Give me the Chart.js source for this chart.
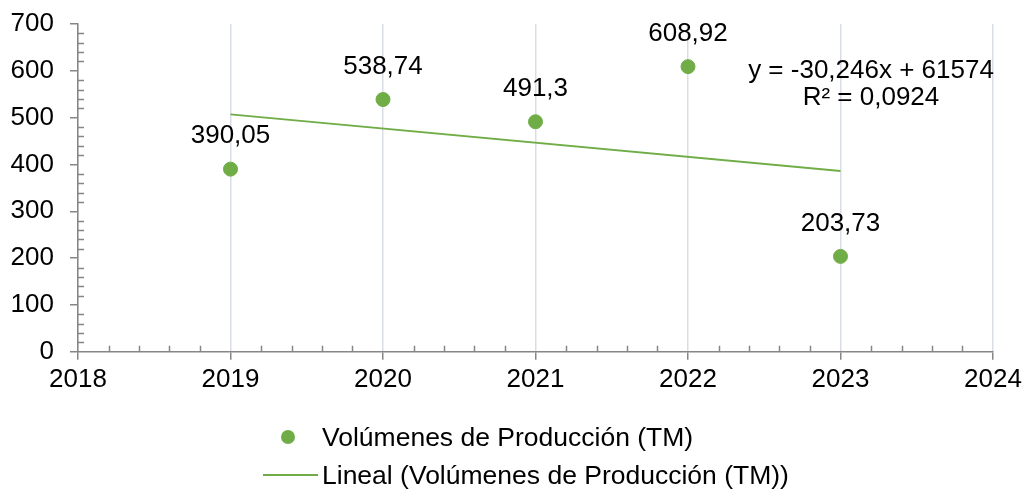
<!DOCTYPE html>
<html>
<head>
<meta charset="utf-8">
<script src="https://cdn.jsdelivr.net/npm/chart.js@4/dist/chart.umd.min.js"></script>
<style>
  body { margin: 0; background: #fff; font-family: "Liberation Sans", Arial, sans-serif; }
  #wrap { position: relative; width: 1024px; height: 495px; }
  #legend { position: absolute; left: 0; top: 0; width: 1024px; height: 495px; pointer-events: none; }
  .item { position: absolute; left: 322px; font-size: 26.5px; color: #000; line-height: 26px; white-space: nowrap; }
  .dot { position: absolute; width: 14px; height: 14px; border-radius: 50%; background: #70AD47; }
  .ln { position: absolute; height: 2px; background: #70AD47; }
</style>
</head>
<body>
<div id="wrap">
  <canvas id="chart1" width="1024" height="495"></canvas>
  <div id="legend">
    <div class="dot" style="left:281px; top:430px;"></div>
    <div class="item" style="top:424px;">Volúmenes de Producción (TM)</div>
    <div class="ln" style="left:263px; width:55px; top:474px;"></div>
    <div class="item" style="top:462px;">Lineal (Volúmenes de Producción (TM))</div>
  </div>
</div>
<script>
const years = [2019, 2020, 2021, 2022, 2023];
const volumes = [390.05, 538.74, 491.3, 608.92, 203.73];
const trendYears = [2019, 2023];
const trendValues = [507.0, 386.1];
const equationLines = ['y = -30,246x + 61574', 'R² = 0,0924'];

const green = '#70AD47';
const axisGray = '#868686';
const fontFamily = '"Liberation Sans", Arial, sans-serif';

const labelPlugin = {
  id: 'pointLabels',
  afterDatasetsDraw(chart) {
    const ctx = chart.ctx;
    const meta = chart.getDatasetMeta(0);
    ctx.save();
    ctx.font = '26px ' + fontFamily;
    ctx.fillStyle = '#000';
    ctx.textAlign = 'center';
    ctx.textBaseline = 'middle';
    meta.data.forEach((pt, i) => {
      ctx.fillText(String(volumes[i]).replace('.', ','), pt.x, pt.y - 33);
    });
    // trendline equation
    const xs = chart.scales.x, ys = chart.scales.y;
    const ex = xs.getPixelForValue(2023.2);
    ctx.fillText(equationLines[0], ex, ys.getPixelForValue(600));
    ctx.fillText(equationLines[1], ex, ys.getPixelForValue(542));
    ctx.restore();
  }
};

const minorTicks = {
  id: 'minorTicks',
  afterDraw(chart) {
    const ctx = chart.ctx;
    const xs = chart.scales.x, ys = chart.scales.y;
    const area = chart.chartArea;
    ctx.save();
    ctx.strokeStyle = axisGray;
    ctx.lineWidth = 1.5;
    ctx.beginPath();
    for (let v = 20; v < 700; v += 20) {
      if (v % 100 === 0) continue;
      const y = Math.round(ys.getPixelForValue(v)) + 0.5;
      ctx.moveTo(area.left, y);
      ctx.lineTo(area.left + 6, y);
    }
    for (let k = 1; k < 30; k++) {
      if (k % 5 === 0) continue;
      const x = Math.round(xs.getPixelForValue(2018 + k / 5)) + 0.5;
      ctx.moveTo(x, area.bottom);
      ctx.lineTo(x, area.bottom - 6);
    }
    ctx.stroke();
    ctx.restore();
  }
};

const data1 = {
  datasets: [
    {
      label: 'Volúmenes de Producción (TM)',
      data: years.map((y, i) => ({ x: y, y: volumes[i] })),
      backgroundColor: green,
      borderColor: green,
      pointRadius: 7,
      showLine: false
    },
    {
      label: 'Lineal (Volúmenes de Producción (TM))',
      data: trendYears.map((y, i) => ({ x: y, y: trendValues[i] })),
      borderColor: green,
      backgroundColor: green,
      borderWidth: 2,
      pointRadius: 0,
      showLine: true
    }
  ]
};

const config1 = {
  type: 'scatter',
  data: data1,
  options: {
    responsive: false,
    animation: false,
    layout: { padding: { top: 24, left: 0, right: 0, bottom: 96 } },
    plugins: {
      legend: { display: false },
      tooltip: { enabled: false }
    },
    scales: {
      x: {
        type: 'linear',
        min: 2018,
        max: 2024,
        afterFit: (s) => { s.paddingRight = 31; },
        ticks: {
          stepSize: 1,
          color: '#000',
          font: { family: fontFamily, size: 26 },
          padding: 4,
          callback: (v) => String(v)
        },
        grid: { color: '#D9DEE6', lineWidth: 1.5, tickColor: axisGray, tickLength: 8 },
        border: { color: axisGray, width: 1.5 }
      },
      y: {
        min: 0,
        max: 700,
        afterFit: (s) => { s.width = 78; s.paddingTop = 0; s.paddingBottom = 0; },
        ticks: {
          stepSize: 100,
          color: '#000',
          font: { family: fontFamily, size: 26 },
          padding: 16
        },
        grid: { drawOnChartArea: false, tickColor: axisGray, tickLength: 8, lineWidth: 1.5 },
        border: { color: axisGray, width: 1.5 }
      }
    }
  },
  plugins: [labelPlugin, minorTicks]
};

const chart1 = new Chart(document.getElementById('chart1'), config1);
</script>
</body>
</html>
